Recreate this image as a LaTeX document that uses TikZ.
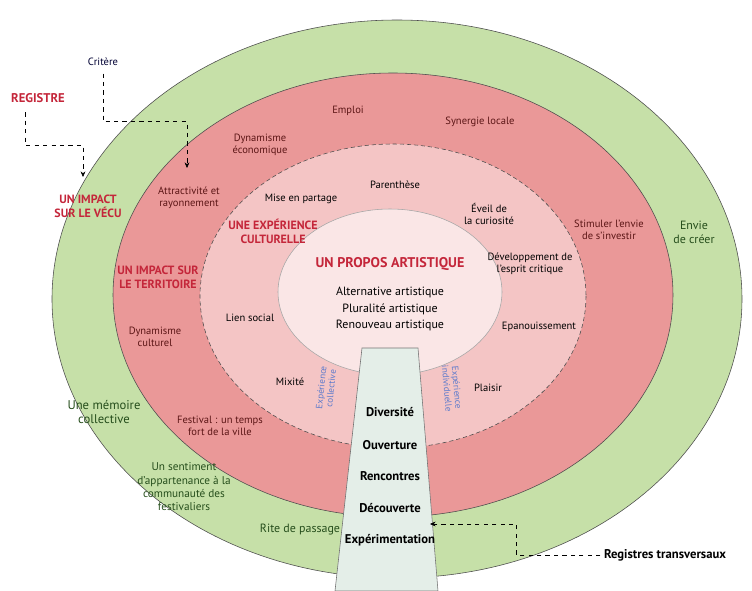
\documentclass[tikz,border=0pt]{standalone}
\usepackage{fontspec}
\setmainfont{PT Sans}
\usetikzlibrary{arrows.meta}
\definecolor{ringgreen}{RGB}{198,224,168}
\definecolor{ringred}{RGB}{234,152,152}
\definecolor{ringpink}{RGB}{244,197,197}
\definecolor{corepink}{RGB}{250,230,230}
\definecolor{trapfill}{RGB}{228,238,232}
\definecolor{titlered}{RGB}{196,38,58}
\definecolor{txtgreen}{RGB}{38,78,28}
\definecolor{txtred}{RGB}{92,22,22}
\definecolor{expblue}{RGB}{92,122,204}
\begin{document}
\begin{tikzpicture}[x=0.025cm,y=-0.025cm,
    lbl/.style={align=center,font=\fontsize{7.5}{8.5}\selectfont,inner sep=1pt},
    greenlbl/.style={lbl,text=txtgreen,font=\fontsize{8.5}{10}\selectfont},
    redlbl/.style={lbl,text=txtred},
    title/.style={align=center,text=titlered,font=\bfseries\fontsize{8.5}{10}\selectfont,inner sep=1pt},
    pillar/.style={font=\bfseries\fontsize{9}{10}\selectfont,inner sep=1pt},
    explbl/.style={align=center,text=expblue,font=\fontsize{6.5}{7}\selectfont,inner sep=1pt},
    leader/.style={dashed,thin,-{Stealth[length=4pt,width=3.5pt]}}]
\useasboundingbox (0,0) rectangle (752,591);
% the four rings, outer to inner
\filldraw[fill=ringgreen,draw=black!70,thin] (397,299) ellipse [x radius=345,y radius=279];
\filldraw[fill=ringred,draw=black!70,thin] (393,295) ellipse [x radius=280,y radius=222];
\filldraw[fill=ringpink,draw=black!70,densely dashed,thin] (393,296) ellipse [x radius=193,y radius=152];
\filldraw[fill=corepink,draw=black!35,thin] (390,292) ellipse [x radius=112,y radius=83];
% the pillar of transverse registers
\filldraw[fill=trapfill,draw=black!55,thin] (362,348) -- (418,348) -- (438,591) -- (335,591) -- cycle;
\foreach \lab/\y [count=\i] in {Diversité/412,Ouverture/445,Rencontres/476,Découverte/508,Expérimentation/540}
    \node[pillar] (pil\i) at (390,\y) {\lab};
\node[explbl,rotate=84] (expcol) at (326,388) {Expérience\\collective};
\node[explbl,rotate=-85] (expind) at (452,388) {Expérience\\individuelle};
% core
\node[title,font=\bfseries\fontsize{10}{12}\selectfont] (propos) at (390,264) {UN PROPOS ARTISTIQUE};
\node[lbl,font=\fontsize{8.5}{11.5}\selectfont] (alt) at (390,309) {Alternative artistique\\Pluralité artistique\\Renouveau artistique};
% cultural experience ring
\node[title] (expcult) at (273,231) {UNE EXPÉRIENCE\\CULTURELLE};
\node[lbl] (partage) at (301,199) {Mise en partage};
\node[lbl] (parenth) at (395,185) {Parenthèse};
\node[lbl] (eveil) at (489,214) {Éveil de\\la curiosité};
\node[lbl] (critique) at (530,264) {Développement de\\l'esprit critique};
\node[lbl] (epan) at (539,327) {Epanouissement};
\node[lbl] (plaisir) at (488,388) {Plaisir};
\node[lbl] (lien) at (250,318) {Lien social};
\node[lbl] (mixite) at (290,382) {Mixité};
% territory ring
\node[title] (territ) at (158,277) {UN IMPACT SUR\\LE TERRITOIRE};
\node[redlbl] (attract) at (189,198) {Attractivité et\\rayonnement};
\node[redlbl] (dyneco) at (260,145) {Dynamisme\\économique};
\node[redlbl] (emploi) at (348,111) {Emploi};
\node[redlbl] (synergie) at (480,122) {Synergie locale};
\node[redlbl] (stimuler) at (609,230) {Stimuler l'envie\\de s'investir};
\node[redlbl] (dyncult) at (155,337) {Dynamisme\\culturel};
\node[redlbl] (festival) at (220,426) {Festival : un temps\\fort de la ville};
% lived ring
\node[title] (vecu) at (88,206) {UN IMPACT\\SUR LE VÉCU};
\node[greenlbl] (envie) at (694,232) {Envie\\de créer};
\node[greenlbl,font=\fontsize{9}{10.5}\selectfont] (memoire) at (104,412) {Une mémoire\\collective};
\node[greenlbl,font=\fontsize{8}{9.5}\selectfont] (sentiment) at (184,487) {Un sentiment\\d'appartenance à la\\communauté des\\festivaliers};
\node[greenlbl] (rite) at (300,530) {Rite de passage};
% legend labels and their leaders
\node[title,font=\bfseries\fontsize{9}{10}\selectfont] (reg) at (38,98) {REGISTRE};
\node[lbl,text=black!80!blue] (crit) at (103,62) {Critère};
\node[pillar] (transv) at (665,555) {Registres transversaux};
\coordinate (vecuIn) at (83,177);
\coordinate (critIn) at (187,168);
\coordinate (pilIn) at (430,524);
\draw[leader] ([xshift=0.4cm,yshift=-0.2cm]reg.south west) -- ++(0,33) -| (vecuIn);
\draw[leader] ([yshift=-0.15cm]crit.south) -- ++(0,48) -| (critIn);
\draw[leader] ([xshift=-0.05cm]transv.west) -- ++(-84,0) |- (pilIn);
\end{tikzpicture}
\end{document}
